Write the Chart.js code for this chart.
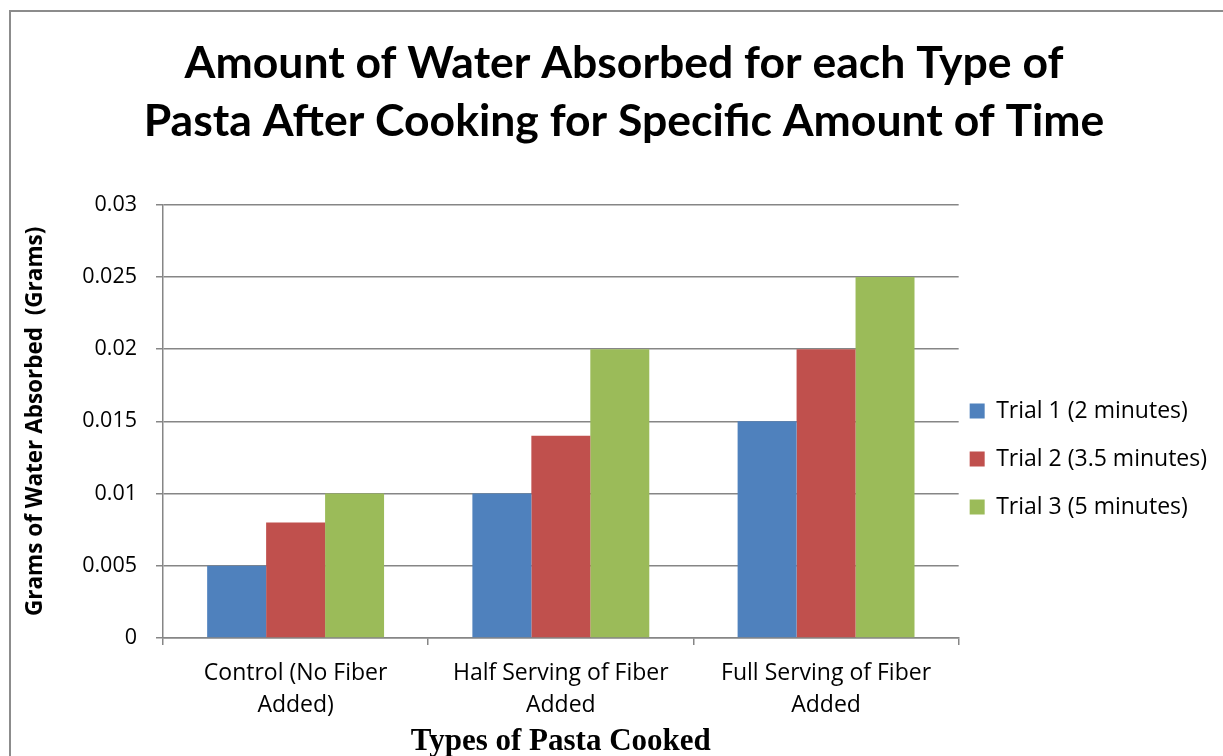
<!DOCTYPE html>
<html>
<head>
<meta charset="utf-8">
<script src="https://cdn.jsdelivr.net/npm/chart.js@4"></script>
<style>
  html, body { margin: 0; padding: 0; background: #fff; overflow: hidden; }
  #frame {
    position: absolute; left: 9px; top: 10px;
    width: 1260px; height: 780px;
    border-left: 2px solid #8c8c8c; border-top: 2px solid #8c8c8c;
  }
  #wrap { position: absolute; left: 0; top: 0; width: 1246px; height: 749px; }
</style>
</head>
<body>
<div id="frame">
  <div id="wrap"><canvas id="pastaChart"></canvas></div>
</div>
<script>
var categories = [['Control (No Fiber', 'Added)'], ['Half Serving of Fiber', 'Added'], ['Full Serving of Fiber', 'Added']];
var trial1 = [0.005, 0.01, 0.015];
var trial2 = [0.008, 0.014, 0.02];
var trial3 = [0.01, 0.02, 0.025];
var seriesNames = ['Trial 1 (2 minutes)', 'Trial 2 (3.5 minutes)', 'Trial 3 (5 minutes)'];
var yTicks = [0, 0.005, 0.01, 0.015, 0.02, 0.025, 0.03];

var sans = '"Open Sans", Lato, sans-serif';

// nudge the legend so it sits where Excel put it
var legendShift = {
    id: 'legendShift',
    afterLayout: function (chart) {
        var lg = chart.legend;
        if (!lg) return;
        lg.left -= 14; lg.right -= 14;
        lg.top += 61; lg.bottom += 61;
    }
};

var ctx = document.getElementById('pastaChart').getContext('2d');
var pastaChart = new Chart(ctx, {
    type: 'bar',
    data: {
        labels: categories,
        datasets: [
            { label: seriesNames[0], data: trial1, backgroundColor: '#4F81BD' },
            { label: seriesNames[1], data: trial2, backgroundColor: '#C0504D' },
            { label: seriesNames[2], data: trial3, backgroundColor: '#9BBB59' }
        ]
    },
    plugins: [legendShift],
    options: {
        responsive: true,
        maintainAspectRatio: false,
        animation: false,
        datasets: {
            bar: { barPercentage: 1, categoryPercentage: 0.667 }
        },
        layout: {
            padding: { left: 6, right: 26, top: 23, bottom: 0 }
        },
        plugins: {
            title: {
                display: true,
                text: ['Amount of Water Absorbed for each Type of', 'Pasta After Cooking for Specific Amount of Time'],
                color: '#000',
                font: { family: 'Lato, sans-serif', size: 44.5, weight: 'bold', lineHeight: 1.3 },
                padding: { top: 0, bottom: 54 }
            },
            legend: {
                display: true,
                position: 'right',
                labels: {
                    boxWidth: 15,
                    boxHeight: 15,
                    padding: 25,
                    color: '#000',
                    font: { family: sans, size: 23 }
                }
            },
            tooltip: { enabled: false }
        },
        scales: {
            x: {
                offset: true,
                afterFit: function (scale) { scale.height = 123; },
                grid: {
                    offset: true,
                    drawOnChartArea: false,
                    drawTicks: true,
                    tickLength: 7,
                    color: '#868686',
                    lineWidth: 1.5
                },
                border: { color: '#868686', width: 1.5 },
                ticks: {
                    color: '#000',
                    font: { family: sans, size: 23, lineHeight: 1.4 },
                    maxRotation: 0,
                    padding: 12
                },
                title: {
                    display: true,
                    text: 'Types of Pasta Cooked',
                    color: '#000',
                    font: { family: '"Liberation Serif", "Times New Roman", serif', size: 31, weight: 'bold' },
                    padding: { top: 0, bottom: 0 }
                }
            },
            y: {
                min: 0,
                max: 0.03,
                afterBuildTicks: function (scale) {
                    scale.ticks = yTicks.map(function (v) { return { value: v }; });
                },
                afterFit: function (scale) { scale.width = 146; },
                grid: {
                    color: '#868686',
                    lineWidth: 1.5,
                    tickLength: 7
                },
                border: { color: '#868686', width: 1.5 },
                ticks: {
                    color: '#000',
                    font: { family: sans, size: 21.5 },
                    padding: 19,
                    callback: function (v) { return String(v); }
                },
                title: {
                    display: true,
                    text: 'Grams of Water Absorbed  (Grams)',
                    color: '#000',
                    font: { family: sans, size: 22.5, weight: 'bold' },
                    padding: { top: 5, bottom: 0 }
                }
            }
        }
    }
});
</script>
</body>
</html>
